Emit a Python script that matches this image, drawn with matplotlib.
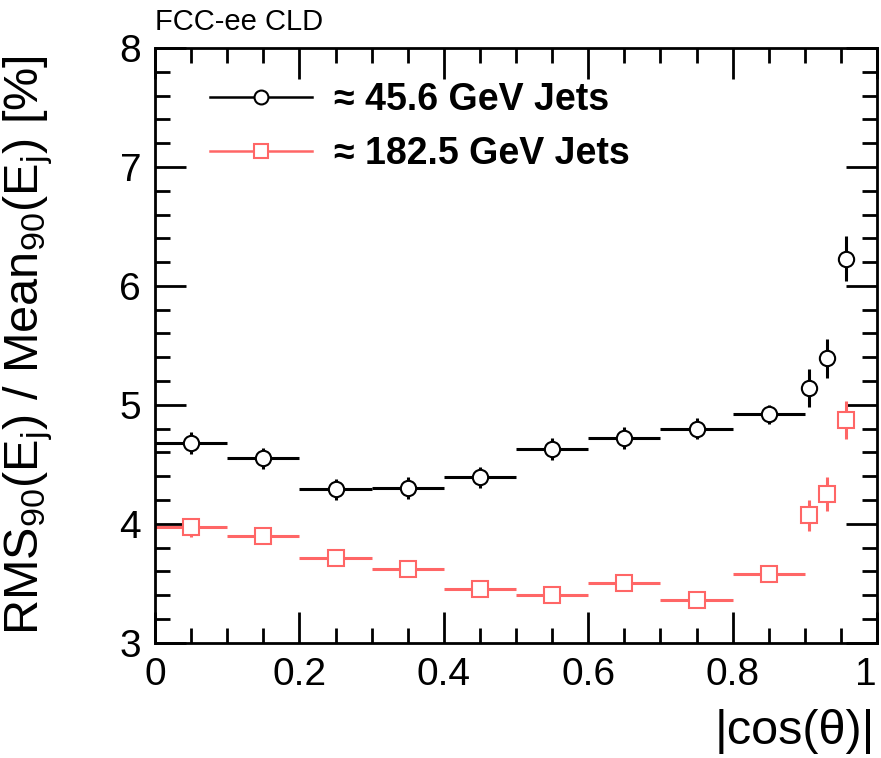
import numpy as np
import matplotlib.pyplot as plt
from matplotlib.ticker import MultipleLocator
from matplotlib.lines import Line2D

plt.rcParams['font.family'] = ['Liberation Sans', 'DejaVu Sans']
plt.rcParams['mathtext.fontset'] = 'custom'
plt.rcParams['mathtext.rm'] = 'Liberation Sans'
plt.rcParams['mathtext.it'] = 'Liberation Sans'

# bin centres and half widths in |cos(theta)|
x = [0.05, 0.15, 0.25, 0.35, 0.45, 0.55, 0.65, 0.75, 0.85, 0.906, 0.931, 0.957]
xerr = [0.05] * 9 + [0.007, 0.007, 0.007]

# 45.6 GeV jets
y_low = [4.68, 4.55, 4.29, 4.30, 4.39, 4.63, 4.72, 4.80, 4.92, 5.14, 5.39, 6.23]
yerr_low = [0.09, 0.09, 0.09, 0.09, 0.09, 0.09, 0.09, 0.09, 0.08, 0.16, 0.16, 0.19]

# 182.5 GeV jets
y_high = [3.97, 3.90, 3.71, 3.62, 3.45, 3.40, 3.50, 3.36, 3.58, 4.07, 4.25, 4.87]
yerr_high = [0.08, 0.07, 0.06, 0.06, 0.06, 0.06, 0.06, 0.05, 0.05, 0.13, 0.14, 0.16]

fig = plt.figure(figsize=(8.81, 7.58), dpi=100)
ax = fig.add_axes([0.176, 0.152, 0.8195, 0.7847])

red = '#ff6666'
handles = []
for y, yerr, col, mk, lab in [(y_low, yerr_low, 'black', 'o', '≈ 45.6 GeV Jets'),
                              (y_high, yerr_high, red, 's', '≈ 182.5 GeV Jets')]:
    ax.errorbar(x, y, xerr=xerr, yerr=yerr, fmt=mk, color=col, mfc='white', mec=col,
                ms=11, mew=1.5, elinewidth=2.2, capsize=0)
    handles.append(Line2D([], [], color=col, lw=1.8, marker=mk, ms=10, mfc='white',
                          mec=col, mew=1.5, label=lab))

ax.set_xlim(0, 1)
ax.set_ylim(3, 8)
ax.set_xticks([0, 0.2, 0.4, 0.6, 0.8, 1])
ax.set_xticklabels(['0', '0.2', '0.4', '0.6', '0.8', '1'])
ax.get_xticklabels()[-1].set_ha('right')
ax.xaxis.set_minor_locator(MultipleLocator(0.05))
ax.yaxis.set_major_locator(MultipleLocator(1))
ax.yaxis.set_minor_locator(MultipleLocator(0.2))
ax.tick_params(which='both', direction='in', top=True, right=True, width=2, labelsize=28)
ax.tick_params(which='major', length=22, pad=10)
ax.tick_params(which='minor', length=11)
for s in ax.spines.values():
    s.set_linewidth(2)

fig.text(0.993, 0.005, '|cos(θ)|', fontsize=35, ha='right', va='bottom')
ax.set_ylabel(r'RMS$_{90}$(E$_{\rm j}$) / Mean$_{90}$(E$_{\rm j}$) [%]', fontsize=35)
ax.yaxis.set_label_coords(-0.138, 0.5)

ax.legend(handles=handles, loc='upper left', bbox_to_anchor=(0.03, 1.0), frameon=False,
          prop={'weight': 'bold', 'size': 27}, handlelength=2.7,
          labelspacing=0.5, handletextpad=0.6)

fig.text(0.176, 0.952, 'FCC-ee CLD', fontsize=21, ha='left', va='bottom')

fig.savefig('out.png', dpi=100)
